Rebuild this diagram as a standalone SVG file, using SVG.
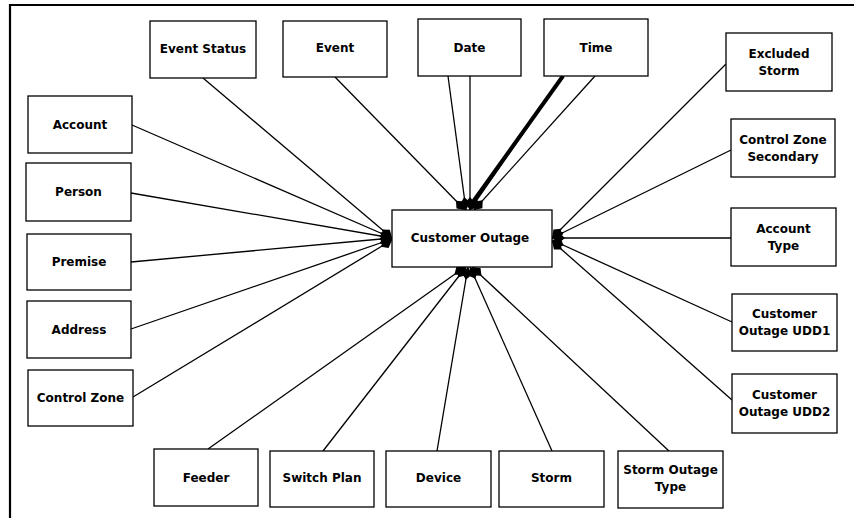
<svg xmlns="http://www.w3.org/2000/svg" width="854" height="518" viewBox="0 0 854 518">
<style>
.box{fill:#fff;stroke:#000;stroke-width:1.3}
.lbl{font-family:"DejaVu Sans",Verdana,sans-serif;font-size:12px;font-weight:bold;fill:#000;text-anchor:middle;dominant-baseline:central}
.c{fill:none;stroke:#000;stroke-width:1.3}
.thick{stroke-width:4}
</style>
<defs>
<marker id="ah" markerUnits="userSpaceOnUse" markerWidth="13" markerHeight="12" refX="13" refY="6" orient="auto">
<path d="M0,6 L6,1 L13,6 L6,11 z" fill="#000"/>
</marker>
</defs>
<rect width="854" height="518" fill="#fff"/>
<path d="M10,518 L10,5 L854,5" fill="none" stroke="#000" stroke-width="2.2"/>
<g id="connectors">
<line class="c" x1="203" y1="78" x2="392" y2="238" marker-end="url(#ah)"/>
<line class="c" x1="132" y1="125" x2="392" y2="238" marker-end="url(#ah)"/>
<line class="c" x1="131" y1="193" x2="392" y2="238" marker-end="url(#ah)"/>
<line class="c" x1="131" y1="262" x2="392" y2="238" marker-end="url(#ah)"/>
<line class="c" x1="131" y1="329" x2="392" y2="239" marker-end="url(#ah)"/>
<line class="c" x1="133" y1="397" x2="392" y2="240" marker-end="url(#ah)"/>
<line class="c" x1="335" y1="77" x2="465" y2="210" marker-end="url(#ah)"/>
<line class="c" x1="448" y1="76" x2="466" y2="210" marker-end="url(#ah)"/>
<line class="c" x1="470" y1="76" x2="470" y2="210" marker-end="url(#ah)"/>
<line class="c thick" x1="563" y1="76" x2="470" y2="206"/>
<line class="c" x1="563" y1="76" x2="470" y2="210" marker-end="url(#ah)"/>
<line class="c" x1="595" y1="76" x2="474" y2="210" marker-end="url(#ah)"/>
<line class="c" x1="726" y1="64" x2="552" y2="238" marker-end="url(#ah)"/>
<line class="c" x1="731" y1="150" x2="552" y2="238" marker-end="url(#ah)"/>
<line class="c" x1="731" y1="238" x2="552" y2="238" marker-end="url(#ah)"/>
<line class="c" x1="732" y1="322" x2="552" y2="240" marker-end="url(#ah)"/>
<line class="c" x1="732" y1="400" x2="552" y2="241" marker-end="url(#ah)"/>
<line class="c" x1="208" y1="449" x2="465" y2="267" marker-end="url(#ah)"/>
<line class="c" x1="323" y1="451" x2="466" y2="267" marker-end="url(#ah)"/>
<line class="c" x1="437" y1="451" x2="468" y2="267" marker-end="url(#ah)"/>
<line class="c" x1="552" y1="451" x2="470" y2="267" marker-end="url(#ah)"/>
<line class="c" x1="669" y1="451" x2="472" y2="267" marker-end="url(#ah)"/>
</g>
<g id="customer-outage"><rect class="box" x="392" y="210" width="160" height="57"/><text class="lbl" x="470" y="238">Customer Outage</text></g>
<g id="event-status"><rect class="box" x="150" y="21" width="106" height="57"/><text class="lbl" x="203" y="49">Event Status</text></g>
<g id="event"><rect class="box" x="283" y="21" width="104" height="56"/><text class="lbl" x="335" y="48">Event</text></g>
<g id="date"><rect class="box" x="418" y="19" width="103" height="57"/><text class="lbl" x="469.5" y="47.5">Date</text></g>
<g id="time"><rect class="box" x="544" y="19" width="104" height="57"/><text class="lbl" x="596" y="47.5">Time</text></g>
<g id="excluded-storm"><rect class="box" x="726" y="33" width="106" height="58"/><text class="lbl" x="779" y="54">Excluded</text><text class="lbl" x="779" y="71">Storm</text></g>
<g id="control-zone-secondary"><rect class="box" x="731" y="119" width="104" height="58"/><text class="lbl" x="783" y="140">Control Zone</text><text class="lbl" x="783" y="157">Secondary</text></g>
<g id="account-type"><rect class="box" x="731" y="208" width="105" height="58"/><text class="lbl" x="783.5" y="229">Account</text><text class="lbl" x="783.5" y="246">Type</text></g>
<g id="customer-outage-udd1"><rect class="box" x="732" y="294" width="105" height="57"/><text class="lbl" x="784.5" y="314">Customer</text><text class="lbl" x="784.5" y="331">Outage UDD1</text></g>
<g id="customer-outage-udd2"><rect class="box" x="732" y="374" width="105" height="59"/><text class="lbl" x="784.5" y="395">Customer</text><text class="lbl" x="784.5" y="412">Outage UDD2</text></g>
<g id="account"><rect class="box" x="28" y="96" width="104" height="57"/><text class="lbl" x="80" y="124.5">Account</text></g>
<g id="person"><rect class="box" x="26" y="163" width="105" height="58"/><text class="lbl" x="78.5" y="192">Person</text></g>
<g id="premise"><rect class="box" x="27" y="234" width="104" height="56"/><text class="lbl" x="79" y="262">Premise</text></g>
<g id="address"><rect class="box" x="27" y="301" width="104" height="57"/><text class="lbl" x="79" y="329.5">Address</text></g>
<g id="control-zone"><rect class="box" x="28" y="370" width="105" height="56"/><text class="lbl" x="80.5" y="398">Control Zone</text></g>
<g id="feeder"><rect class="box" x="154" y="449" width="104" height="57"/><text class="lbl" x="206" y="477.5">Feeder</text></g>
<g id="switch-plan"><rect class="box" x="270" y="451" width="104" height="56"/><text class="lbl" x="322" y="478">Switch Plan</text></g>
<g id="device"><rect class="box" x="386" y="451" width="105" height="56"/><text class="lbl" x="438.5" y="478">Device</text></g>
<g id="storm"><rect class="box" x="499" y="451" width="105" height="56"/><text class="lbl" x="551.5" y="478">Storm</text></g>
<g id="storm-outage-type"><rect class="box" x="618" y="451" width="105" height="57"/><text class="lbl" x="670.5" y="470">Storm Outage</text><text class="lbl" x="670.5" y="487">Type</text></g>
</svg>
